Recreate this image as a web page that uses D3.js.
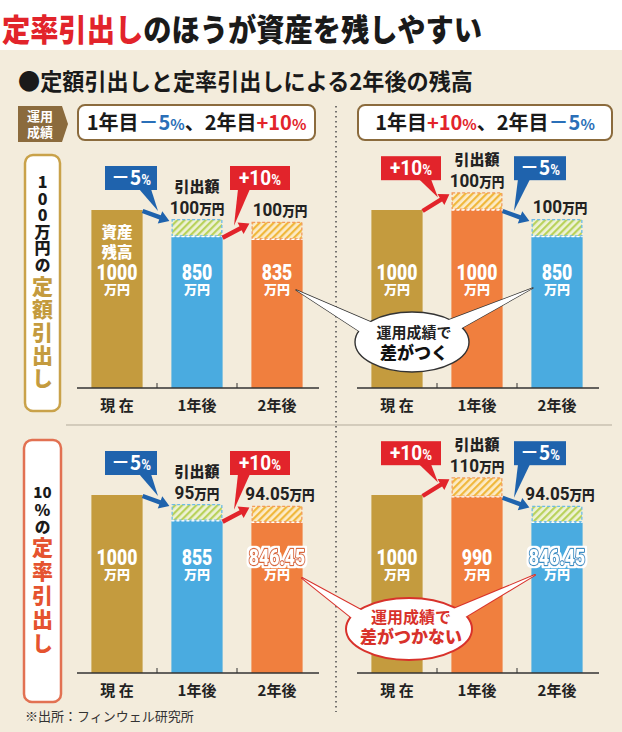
<!DOCTYPE html>
<html><head><meta charset="utf-8">
<script src="https://cdn.jsdelivr.net/npm/d3@7"></script>
<style>body{margin:0;background:#fff}svg{display:block}</style>
</head><body>
<script>
// ---------- data ----------
const categories = ["現 在", "1年後", "2年後"];
const returnsA = [-5, 10];
const returnsB = [10, -5];
const fixedBalanceA = [1000, 850, 835];
const fixedWithdrawA = [0, 100, 100];
const fixedBalanceB = [1000, 1000, 850];
const fixedWithdrawB = [0, 100, 100];
const rateBalanceA = [1000, 855, 846.45];
const rateWithdrawA = [0, 95, 94.05];
const rateBalanceB = [1000, 990, 846.45];
const rateWithdrawB = [0, 110, 94.05];

// ---------- setup ----------
const W = 622, Hh = 732;
const JP = "'Noto Sans CJK JP','Noto Sans CJK SC',sans-serif";
const NUM = "Roboto,'Liberation Sans',sans-serif";
const C = {bg:"#f3ecdc", gold:"#c49b3e", blue:"#4aabe0", orange:"#f07f3e",
  tagBlue:"#1f63ad", tagRed:"#e2242b", red:"#e2242b", brown:"#8b6b3d", dark:"#222"};

const svg = d3.select("body").append("svg").attr("width", W).attr("height", Hh);
const defs = svg.append("defs");
function hatch(id, bg, stripe){
  const p = defs.append("pattern").attr("id", id).attr("patternUnits","userSpaceOnUse")
    .attr("width",5).attr("height",5).attr("patternTransform","rotate(45)");
  p.append("rect").attr("width",5).attr("height",5).attr("fill",bg);
  p.append("rect").attr("width",2.2).attr("height",5).attr("fill",stripe);
}
hatch("hBlue", "#eef2d6", "#b9d25c");
hatch("hOrange", "#fcebc8", "#f0b83c");
const f = defs.append("filter").attr("id","halo").attr("x","-20%").attr("y","-40%").attr("width","140%").attr("height","180%");
f.append("feMorphology").attr("in","SourceAlpha").attr("operator","dilate").attr("radius",2.2).attr("result","d");
f.append("feFlood").attr("flood-color","#ffffff").attr("result","w");
f.append("feComposite").attr("in","w").attr("in2","d").attr("operator","in").attr("result","h");
const fm = f.append("feMerge");
fm.append("feMergeNode").attr("in","h");
fm.append("feMergeNode").attr("in","SourceGraphic");

svg.append("rect").attr("width",W).attr("height",Hh).attr("fill","#fff");
svg.append("rect").attr("y",50).attr("width",W).attr("height",Hh-50).attr("fill",C.bg);

// text helper: lines = [{y, parts:[{t,s,f,w,c}]}]
function mtext(g, cx, sx, lines, anchor){
  const t = g.append("text").attr("text-anchor",anchor||"middle")
    .attr("transform",`translate(${cx},0) scale(${sx},1)`);
  lines.forEach(l=>{
    l.parts.forEach((p,j)=>{
      const s = t.append("tspan").attr("font-family",p.f||NUM).attr("font-weight",p.w||700)
        .attr("font-size",p.s).attr("fill",p.c||C.dark).text(p.t);
      if(j===0) s.attr("x",0).attr("y",l.y);
    });
  });
  return t;
}
function vtext(x, y, str, size, ls, color){
  return svg.append("text").attr("x",x).attr("y",y).attr("writing-mode","vertical-rl")
    .style("text-orientation","upright").attr("font-family",JP).attr("font-weight",900)
    .attr("font-size",size).attr("letter-spacing",ls).attr("fill",color).text(str);
}

// title
const title = svg.append("text").attr("x",2).attr("y",41).attr("font-family",JP)
  .attr("font-weight",900).attr("font-size",31).attr("textLength",480).attr("lengthAdjust","spacingAndGlyphs");
title.append("tspan").attr("fill",C.red).text("定率引出し");
title.append("tspan").attr("fill","#1a1a1a").text("のほうが資産を残しやすい");

svg.append("text").attr("x",18).attr("y",90).attr("font-family",JP).attr("font-weight",700)
  .attr("font-size",23).attr("fill","#1a1a1a").attr("textLength",455).attr("lengthAdjust","spacingAndGlyphs")
  .text("●定額引出しと定率引出しによる2年後の残高");

// 運用成績 tag
svg.append("path").attr("d","M18,106 H62 L68,124 L62,142 H18 Z").attr("fill",C.brown);
mtext(svg,40,1,[{y:121,parts:[{t:"運用",s:13,f:JP,c:"#fff"}]},{y:137,parts:[{t:"成績",s:13,f:JP,c:"#fff"}]}]);

function header(x, w, rets){
  svg.append("rect").attr("x",x).attr("y",105).attr("width",w).attr("height",35).attr("rx",7)
    .attr("fill","#fff").attr("stroke",C.brown).attr("stroke-width",2);
  const t = svg.append("text").attr("x",x+w/2).attr("y",130).attr("text-anchor","middle")
    .attr("font-family",JP).attr("font-weight",700).attr("font-size",20).attr("fill","#1a1a1a");
  rets.forEach((r,i)=>{
    t.append("tspan").text((i?"、":"")+(i+1)+"年目");
    const col = r<0 ? "#2a6fb8" : C.red;
    t.append("tspan").attr("fill",col).text((r<0?"－":"+")+Math.abs(r));
    t.append("tspan").attr("fill",col).attr("font-size",15).text("%");
  });
}
header(78, 237, returnsA);
header(358, 254, returnsB);

// separators
svg.append("line").attr("x1",336).attr("x2",336).attr("y1",106).attr("y2",712)
  .attr("stroke","#555").attr("stroke-width",1.6).attr("stroke-dasharray","1.6,3.4");
svg.append("line").attr("x1",66).attr("x2",612).attr("y1",425).attr("y2",425)
  .attr("stroke","#b3ab9b").attr("stroke-width",1);

// side labels
svg.append("rect").attr("x",25).attr("y",155).attr("width",35).attr("height",256).attr("rx",8)
  .attr("fill","#fff").attr("stroke","#c9a24a").attr("stroke-width",2.5);
vtext(42.5,174,"100万円の",16,0.6,"#1a1a1a");
vtext(42.5,276,"定額引出し",21,2,"#c49b3e");
svg.append("rect").attr("x",24).attr("y",440).attr("width",37).attr("height",262).attr("rx",8)
  .attr("fill","#fff").attr("stroke","#e27152").attr("stroke-width",2.5);
svg.append("text").attr("x",42.5).attr("y",498).attr("text-anchor","middle").attr("font-family",JP)
  .attr("font-weight",900).attr("font-size",15).attr("fill","#1a1a1a").text("10");
vtext(42.5,502,"%の",16,1,"#1a1a1a");
vtext(42.5,537,"定率引出し",21,3,"#e5532f");

// ---------- panels ----------
const H = 178;
const yH = d3.scaleLinear().domain([0,1000]).range([0,H]);
const panels = [
  {bal:fixedBalanceA, wd:fixedWithdrawA, ret:returnsA, x0:77,  base:388, first:true},
  {bal:fixedBalanceB, wd:fixedWithdrawB, ret:returnsB, x0:357, base:388},
  {bal:rateBalanceA,  wd:rateWithdrawA,  ret:returnsA, x0:77,  base:673, halo:true},
  {bal:rateBalanceB,  wd:rateWithdrawB,  ret:returnsB, x0:357, base:673, halo:true},
];

function arrow(g,x1,y1,x2,y2,color){
  const dx=x2-x1, dy=y2-y1, L=Math.hypot(dx,dy), ux=dx/L, uy=dy/L, nx=-uy, ny=ux;
  const hl=10, hw=6.5, sw=2.2, bx=x2-ux*hl, by=y2-uy*hl;
  const pts=[[x1+nx*sw,y1+ny*sw],[bx+nx*sw,by+ny*sw],[bx+nx*hw,by+ny*hw],[x2,y2],
    [bx-nx*hw,by-ny*hw],[bx-nx*sw,by-ny*sw],[x1-nx*sw,y1-ny*sw]];
  g.append("polygon").attr("points",pts.map(p=>p.join(",")).join(" ")).attr("fill",color);
}
function tag(g,cx,top,r,tipX,tipY){
  const w = r<0?52:60, h=24, col = r<0?C.tagBlue:C.tagRed;
  const b = tipX>cx ? [cx+8,cx+20] : [cx-22,cx-10];
  g.append("polygon").attr("points",`${b[0]},${top+h-1} ${b[1]},${top+h-1} ${tipX},${tipY}`).attr("fill",col);
  g.append("rect").attr("x",cx-w/2).attr("y",top).attr("width",w).attr("height",h).attr("fill",col);
  mtext(g,cx,0.95,[{y:top+h-5,parts:[{t:(r<0?"－":"+")+Math.abs(r),s:20,c:"#fff",f:r<0?JP:NUM},{t:"%",s:14,c:"#fff"}]}]);
}

panels.forEach((P,pi)=>{
  const g = svg.append("g");
  const x = d3.scaleBand().domain(categories).range([P.x0,P.x0+240]).paddingInner(0.36).paddingOuter(0.18);
  const bw = x.bandwidth(), step = x.step();
  const Y = v => P.base - yH(v);
  const colOf = i => i===0 ? C.gold : (P.ret[i-1]<0 ? C.blue : C.orange);
  const totals = P.bal.map((b,i)=>b+P.wd[i]);
  const maxT = d3.max(totals);

  categories.forEach((c,i)=>{
    const col = colOf(i);
    g.append("rect").attr("x",x(c)).attr("y",Y(P.bal[i])).attr("width",bw).attr("height",yH(P.bal[i])).attr("fill",col);
    if(P.wd[i]>0){
      g.append("rect").attr("x",x(c)+0.75).attr("y",Y(totals[i])+0.75).attr("width",bw-1.5).attr("height",yH(P.wd[i])-1.5)
        .attr("fill",col===C.blue?"url(#hBlue)":"url(#hOrange)")
        .attr("stroke",col===C.blue?"#6cbbe8":"#f39a5a").attr("stroke-width",1.3).attr("stroke-dasharray","3,2");
      g.append("line").attr("x1",x(c)).attr("x2",x(c)+bw).attr("y1",Y(P.bal[i])).attr("y2",Y(P.bal[i]))
        .attr("stroke","#fff").attr("stroke-width",1.3).attr("stroke-dasharray","3,2");
    }
    // value label
    const cx = x(c)+bw/2;
    const vt = mtext(g,cx,0.8,[{y:P.base-108,parts:[{t:String(P.bal[i]),s:22,c:"#fff",w:900}]}]);
    if(P.halo && i===2){
      vt.attr("stroke",col===C.blue?"#3b8fc4":"#d9683a").attr("stroke-width",2.4)
        .attr("stroke-linejoin","round").attr("paint-order","stroke").attr("filter","url(#halo)");
    }
    mtext(g,cx,1,[{y:P.base-94,parts:[{t:"万円",s:13,c:"#fff",f:JP,w:900}]}]);
    if(P.first && i===0){
      mtext(g,cx,1,[{y:238,parts:[{t:"資産",s:15.5,c:"#fff",f:JP,w:900}]},
                    {y:258,parts:[{t:"残高",s:15.5,c:"#fff",f:JP,w:900}]}]);
    }
    // withdrawal labels
    if(P.wd[i]>0){
      const amt = [{t:String(P.wd[i]),s:19},{t:"万円",s:14,f:JP,w:900}];
      if(i===1){
        mtext(g,cx,1,[{y:Y(totals[i])-27,parts:[{t:"引出額",s:15,f:JP,w:900}]}]);
        mtext(g,cx,0.9,[{y:Y(totals[i])-5,parts:amt}]);
      } else {
        mtext(g,cx+3,0.9,[{y:Y(totals[i])-6,parts:amt}]);
      }
    }
  });

  // axis
  g.append("line").attr("x1",P.x0).attr("x2",P.x0+242).attr("y1",P.base).attr("y2",P.base)
    .attr("stroke","#333").attr("stroke-width",1.6);
  categories.slice(1).forEach(c=>{
    const tx = x(c)-step*0.18;
    g.append("line").attr("x1",tx).attr("x2",tx).attr("y1",P.base).attr("y2",P.base-5).attr("stroke","#333").attr("stroke-width",1);
  });
  categories.forEach(c=>{
    g.append("text").attr("x",x(c)+bw/2).attr("y",P.base+23).attr("text-anchor","middle")
      .attr("font-family",JP).attr("font-weight",700).attr("font-size",15).attr("fill","#222")
      .attr("xml:space","preserve").text(c);
  });

  // arrows + tags
  const tagTop = Y(maxT) - (maxT>1000 ? 36 : 44);
  P.ret.forEach((r,i)=>{
    const x1 = x(categories[i])+bw, y1 = Y(P.bal[i])+1;
    const x2 = x(categories[i+1])-2, y2 = Y(totals[i+1])+2;
    const col = r<0?C.tagBlue:C.tagRed;
    const mx=(x1+x2)/2, my=(y1+y2)/2;
    const cx = mx + (i===0?-25:24);
    tag(g,cx,tagTop,r,mx+(i===0?2:-2),my-5);
    arrow(g,x1,y1,x2,y2,col);
  });
});

// ---------- bubbles ----------
function bubble(cx,cy,rx,ry,stroke,sw,tails,lines){
  const g = svg.append("g");
  tails.forEach(t=>g.append("polygon").attr("points",t.map(p=>p.join(",")).join(" "))
    .attr("fill","#fff").attr("stroke",stroke).attr("stroke-width",sw).attr("stroke-linejoin","round"));
  g.append("ellipse").attr("cx",cx).attr("cy",cy).attr("rx",rx).attr("ry",ry).attr("fill","#fff")
    .attr("stroke",stroke).attr("stroke-width",sw);
  tails.forEach(t=>g.append("polygon").attr("points",t.map(p=>p.join(",")).join(" ")).attr("fill","#fff"));
  mtext(g,cx+2,1,lines);
}
bubble(412,342,57,30,"#333",1.4,
  [[[296,290],[373,323],[368,337]],[[533,288],[446,321],[453,333]]],
  [{y:338,parts:[{t:"運用成績で",s:15,f:JP,w:700,c:"#222"}]},{y:359,parts:[{t:"差がつく",s:17,f:JP,w:900,c:"#111"}]}]);
bubble(409,629,63,31,"#d8322b",2,
  [[[302,578],[372,616],[367,630]],[[535,575],[446,612],[452,625]]],
  [{y:623,parts:[{t:"運用成績で",s:16,f:JP,w:700,c:"#d8322b"}]},{y:643,parts:[{t:"差がつかない",s:17,f:JP,w:900,c:"#d8322b"}]}]);

// footer
svg.append("text").attr("x",25).attr("y",721).attr("font-family",JP).attr("font-size",13)
  .attr("fill","#333").text("※出所：フィンウェル研究所");
</script>
</body></html>
